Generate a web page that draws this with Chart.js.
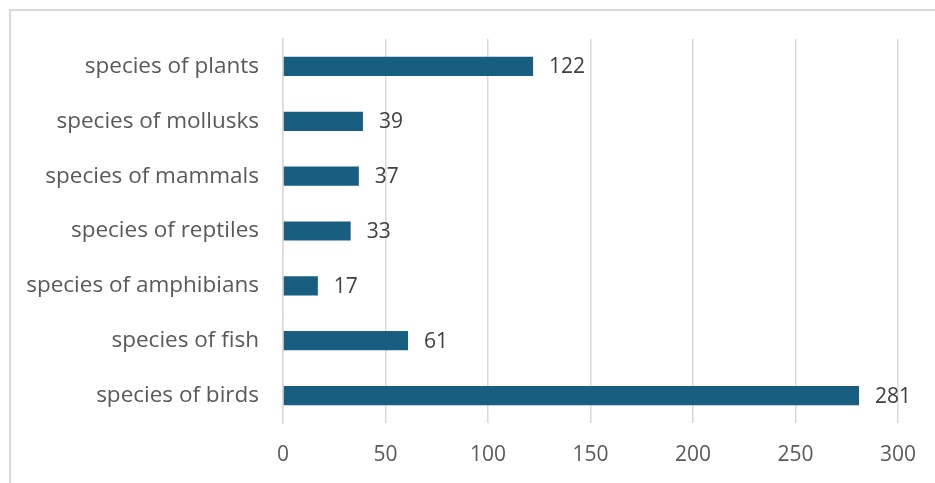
<!DOCTYPE html>
<html>
<head>
<meta charset="utf-8">
<script src="https://cdn.jsdelivr.net/npm/chart.js@4.4.0/dist/chart.umd.min.js"></script>
<style>
    html, body { margin: 0; padding: 0; background: #fff; }
    #wrap { position: relative; width: 935px; height: 483px; overflow: hidden; }
    #frame {
        position: absolute; left: 9px; top: 9px; width: 1000px; height: 1000px;
        border-left: 2px solid #d9d9d9; border-top: 2px solid #d9d9d9;
    }
    canvas { position: absolute; left: 0; top: 0; }
</style>
</head>
<body>
<div id="wrap">
    <div id="frame"></div>
    <canvas id="chart" width="935" height="483"></canvas>
</div>
<script>
const categories = [
    "species of plants",
    "species of mollusks",
    "species of mammals",
    "species of reptiles",
    "species of amphibians",
    "species of fish",
    "species of birds",
];
const counts = [122, 39, 37, 33, 17, 61, 281];
const xTicks = [0, 50, 100, 150, 200, 250, 300];

const FONT = "'Open Sans', sans-serif";

// draw the number just past the end of each bar
const valueLabels = {
    id: "valueLabels",
    afterDatasetsDraw(chart) {
        const ctx = chart.ctx;
        const meta = chart.getDatasetMeta(0);
        ctx.save();
        ctx.font = "21px " + FONT;
        ctx.fillStyle = "#404040";
        ctx.textAlign = "left";
        ctx.textBaseline = "middle";
        meta.data.forEach((bar, i) => {
            ctx.fillText(String(counts[i]), bar.x + 16, bar.y + 1);
        });
        ctx.restore();
    },
};

const ctx = document.getElementById("chart").getContext("2d");
new Chart(ctx, {
    type: "bar",
    data: {
        labels: categories,
        datasets: [
            {
                data: counts,
                backgroundColor: "#175e80",
                borderWidth: 0,
                barPercentage: 0.7,
                categoryPercentage: 0.5,
            },
        ],
    },
    options: {
        indexAxis: "y",
        responsive: false,
        animation: false,
        layout: { padding: { left: 0, right: 37, top: 39, bottom: 0 } },
        plugins: {
            legend: { display: false },
            tooltip: { enabled: false },
        },
        scales: {
            x: {
                min: 0,
                max: 300,
                afterBuildTicks: (axis) => {
                    axis.ticks = xTicks.map((v) => ({ value: v }));
                },
                afterFit: (axis) => {
                    axis.height = 60;
                },
                grid: { color: "#d9d9d9", lineWidth: 1.5, drawTicks: false },
                border: { display: false },
                ticks: {
                    padding: 19,
                    color: "#595959",
                    font: { family: FONT, size: 21 },
                },
            },
            y: {
                afterFit: (axis) => {
                    axis.width = 283;
                },
                grid: { display: false, drawTicks: false },
                border: { display: true, color: "#d9d9d9", width: 1.5 },
                ticks: {
                    padding: 24,
                    color: "#595959",
                    font: { family: FONT, size: 22.5 },
                },
            },
        },
    },
    plugins: [valueLabels],
});
</script>
</body>
</html>
